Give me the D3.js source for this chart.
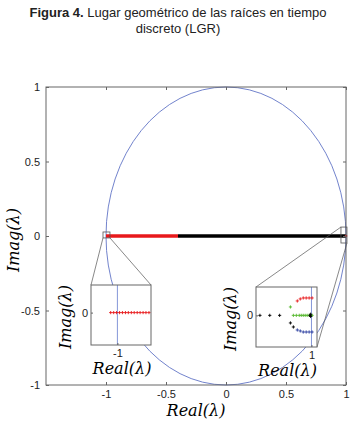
<!DOCTYPE html>
<html>
<head>
<meta charset="utf-8">
<script src="https://cdn.jsdelivr.net/npm/d3@7"></script>
<style>
  body { margin: 0; background: #fff; }
  svg { display: block; }
</style>
</head>
<body>
<div id="chart"></div>
<script>
// ---- data ----
const mainTicks = [-1, -0.5, 0, 0.5, 1];
const redBranch = [-1, -0.4];          // real axis, red part of the locus
const blackBranch = [-0.4, 1];         // real axis, black part of the locus
const zoomBox1 = {x: [-1.025, -0.967], y: [-0.013, 0.027]};
const zoomBox2 = {x: [0.958, 1.008], y: [-0.047, 0.06]};

// inset 1 (near -1): red poles on the real axis
const inset1Real = [-1.0056, -1.0031, -1.0007, -0.9982, -0.9958, -0.9933, -0.9909,
                    -0.9884, -0.9860, -0.9835, -0.9811, -0.9786, -0.9762, -0.9737];

// inset 2 (near +1): points as [real, imag]
const inset2Black = [[0.9071, 0], [0.9248, 0], [0.9426, 0], [0.9976, 0], [0.9985, 0.002],
                     [0.9985, -0.002], [0.9621, -0.0139], [0.9674, -0.0213]];
const inset2Green = [[0.9621, 0.0154], [0.9674, 0], [0.9727, 0], [0.9780, 0], [0.9816, 0],
                     [0.9852, 0], [0.9887, 0], [0.9923, 0], [0.9958, 0], [0.9994, 0], [1.0011, 0]];
const inset2Red = [[0.9745, 0.0264], [0.9798, 0.0301], [0.9852, 0.0319], [0.9905, 0.0319],
                   [0.9958, 0.0319], [1.0011, 0.0319]];
const inset2Blue = [[0.9745, -0.0268], [0.9798, -0.0286], [0.9852, -0.0305], [0.9905, -0.0305],
                    [0.9958, -0.0305], [1.0011, -0.0305]];

const W = 357, H = 426;
const svg = d3.select("#chart").append("svg").attr("width", W).attr("height", H);

// title
const title = svg.append("text").attr("x", 178).attr("y", 17).attr("text-anchor", "middle")
  .style("font-family", "Liberation Sans, Arial, sans-serif").style("font-size", "13px").attr("fill", "#222");
title.append("tspan").style("font-weight", "bold").text("Figura 4.");
title.append("tspan").text(" Lugar geométrico de las raíces en tiempo");
svg.append("text").attr("x", 178).attr("y", 33).attr("text-anchor", "middle")
  .style("font-family", "Liberation Sans, Arial, sans-serif").style("font-size", "13px").attr("fill", "#222")
  .text("discreto (LGR)");

// main scales
const x = d3.scaleLinear().domain([-1.5, 1]).range([46, 346]);
const y = d3.scaleLinear().domain([-1, 1]).range([385, 87]);

const tickFont = "Liberation Sans, Arial, sans-serif";
const labelFont = "DejaVu Serif, serif";
const frameColor = "#666";

function styleAxis(g, showText) {
  g.select(".domain").remove();
  g.selectAll(".tick line").attr("stroke", frameColor);
  g.selectAll(".tick text").style("font-family", tickFont).style("font-size", "11px").attr("fill", "#222");
  if (!showText) g.selectAll(".tick text").remove();
}

// unit circle
svg.append("ellipse")
  .attr("cx", x(0)).attr("cy", y(0))
  .attr("rx", x(1) - x(0)).attr("ry", y(0) - y(1))
  .attr("fill", "none").attr("stroke", "#6275c6").attr("stroke-width", 0.9);

// locus on real axis
svg.append("line").attr("x1", x(blackBranch[0])).attr("x2", x(blackBranch[1]))
  .attr("y1", y(0)).attr("y2", y(0)).attr("stroke", "#000").attr("stroke-width", 3.5);
svg.append("line").attr("x1", x(redBranch[0])).attr("x2", x(redBranch[1]))
  .attr("y1", y(0)).attr("y2", y(0)).attr("stroke", "#e8191b").attr("stroke-width", 3.5);
svg.append("circle").attr("cx", x(1)).attr("cy", y(0)).attr("r", 1.3).attr("fill", "#e8191b");

// axes
svg.append("g").attr("transform", `translate(0,${y(-1)})`)
  .call(d3.axisBottom(x).tickValues(mainTicks).tickSizeInner(-3).tickSizeOuter(0).tickPadding(5).tickFormat(d => String(d)))
  .call(g => styleAxis(g, true));
svg.append("g").attr("transform", `translate(0,${y(1)})`)
  .call(d3.axisTop(x).tickValues(mainTicks).tickSizeInner(-3).tickSizeOuter(0))
  .call(g => styleAxis(g, false));
svg.append("g").attr("transform", `translate(${x(-1.5)},0)`)
  .call(d3.axisLeft(y).tickValues(mainTicks).tickSizeInner(-3).tickSizeOuter(0).tickPadding(6).tickFormat(d => String(d)))
  .call(g => styleAxis(g, true));
svg.append("g").attr("transform", `translate(${x(1)},0)`)
  .call(d3.axisRight(y).tickValues(mainTicks).tickSizeInner(-3).tickSizeOuter(0))
  .call(g => styleAxis(g, false));
svg.append("rect").attr("x", x(-1.5)).attr("y", y(1))
  .attr("width", x(1) - x(-1.5)).attr("height", y(-1) - y(1))
  .attr("fill", "none").attr("stroke", frameColor).attr("stroke-width", 1);

// main axis labels
svg.append("text").attr("x", (x(-1.5) + x(1)) / 2).attr("y", 416).attr("text-anchor", "middle")
  .style("font-family", labelFont).style("font-style", "italic").style("font-size", "16px")
  .text("Real(λ)");
svg.append("text").attr("transform", `translate(19,${y(0) + 4}) rotate(-90)`).attr("text-anchor", "middle")
  .style("font-family", labelFont).style("font-style", "italic").style("font-size", "16px")
  .text("Imag(λ)");

// zoom boxes on the main plot
function zoomRect(b) {
  return {x0: x(b.x[0]), x1: x(b.x[1]), y0: y(b.y[1]), y1: y(b.y[0])};
}
const zr1 = zoomRect(zoomBox1), zr2 = zoomRect(zoomBox2);
[zr1, zr2].forEach(r => {
  svg.append("rect").attr("x", r.x0).attr("y", r.y0).attr("width", r.x1 - r.x0).attr("height", r.y1 - r.y0)
    .attr("fill", "none").attr("stroke", "#555").attr("stroke-width", 0.8);
});

// insets
const plus = "M-1.6,0h3.2M0,-1.6v3.2";

function makeInset(box, xd, yd, xTick, tickLabel) {
  const ix = d3.scaleLinear().domain(xd).range([box.x, box.x + box.w]);
  const iy = d3.scaleLinear().domain(yd).range([box.y + box.h, box.y]);
  const g = svg.append("g");
  g.append("rect").attr("x", box.x).attr("y", box.y).attr("width", box.w).attr("height", box.h)
    .attr("fill", "#fff");
  // circle piece near +/-1 looks vertical at this zoom
  g.append("line").attr("x1", ix(xTick)).attr("x2", ix(xTick))
    .attr("y1", box.y).attr("y2", box.y + box.h).attr("stroke", "#8496d8").attr("stroke-width", 1);
  g.append("g").attr("transform", `translate(0,${box.y + box.h})`)
    .call(d3.axisBottom(ix).tickValues([xTick]).tickSizeInner(-2).tickSizeOuter(0).tickPadding(4).tickFormat(() => tickLabel))
    .call(a => styleAxis(a, true));
  g.append("g").attr("transform", `translate(${box.x},0)`)
    .call(d3.axisLeft(iy).tickValues([0]).tickSizeInner(-2).tickSizeOuter(0).tickPadding(3).tickFormat(() => "0"))
    .call(a => styleAxis(a, true));
  g.append("text").attr("x", box.x + box.w / 2 + 1).attr("y", box.y + box.h + 29).attr("text-anchor", "middle")
    .style("font-family", labelFont).style("font-style", "italic").style("font-size", "16px")
    .text("Real(λ)");
  g.append("text").attr("transform", `translate(${box.x - 20},${box.y + box.h / 2 + 2}) rotate(-90)`)
    .attr("text-anchor", "middle")
    .style("font-family", labelFont).style("font-style", "italic").style("font-size", "16px")
    .text("Imag(λ)");
  return {g, ix, iy};
}

const box1 = {x: 91, y: 285, w: 60, h: 60};
const box2 = {x: 256, y: 287, w: 61, h: 60};

// connector lines (drawn before inset frames)
svg.append("line").attr("x1", zr1.x0).attr("y1", zr1.y1).attr("x2", box1.x).attr("y2", box1.y)
  .attr("stroke", "#555").attr("stroke-width", 0.7);
svg.append("line").attr("x1", zr1.x1).attr("y1", zr1.y1).attr("x2", box1.x + box1.w).attr("y2", box1.y)
  .attr("stroke", "#555").attr("stroke-width", 0.7);
svg.append("line").attr("x1", zr2.x0).attr("y1", zr2.y0).attr("x2", box2.x).attr("y2", box2.y)
  .attr("stroke", "#555").attr("stroke-width", 0.7);
svg.append("line").attr("x1", zr2.x1).attr("y1", zr2.y1).attr("x2", box2.x + box2.w).attr("y2", box2.y + box2.h)
  .attr("stroke", "#555").attr("stroke-width", 0.7);

const in1 = makeInset(box1, [-1.022, -0.972], [-0.027, 0.023], -1, "-1");
in1.g.selectAll(".p1").data(inset1Real).enter().append("path")
  .attr("d", plus).attr("transform", d => `translate(${in1.ix(d)},${in1.iy(0)})`)
  .attr("stroke", "#e8191b").attr("stroke-width", 0.9);

const in2 = makeInset(box2, [0.9, 1.01], [-0.058, 0.052], 1, "1");
[[inset2Red, "#e8191b"], [inset2Blue, "#2d3fa0"], [inset2Green, "#56b82e"], [inset2Black, "#000"]]
  .forEach(([pts, c]) => {
    in2.g.append("g").selectAll("path").data(pts).enter().append("path")
      .attr("d", plus).attr("transform", d => `translate(${in2.ix(d[0])},${in2.iy(d[1])})`)
      .attr("stroke", c).attr("stroke-width", 0.9);
  });

// inset frames on top
[box1, box2].forEach(b => {
  svg.append("rect").attr("x", b.x).attr("y", b.y).attr("width", b.w).attr("height", b.h)
    .attr("fill", "none").attr("stroke", frameColor).attr("stroke-width", 1);
});
</script>
</body>
</html>
